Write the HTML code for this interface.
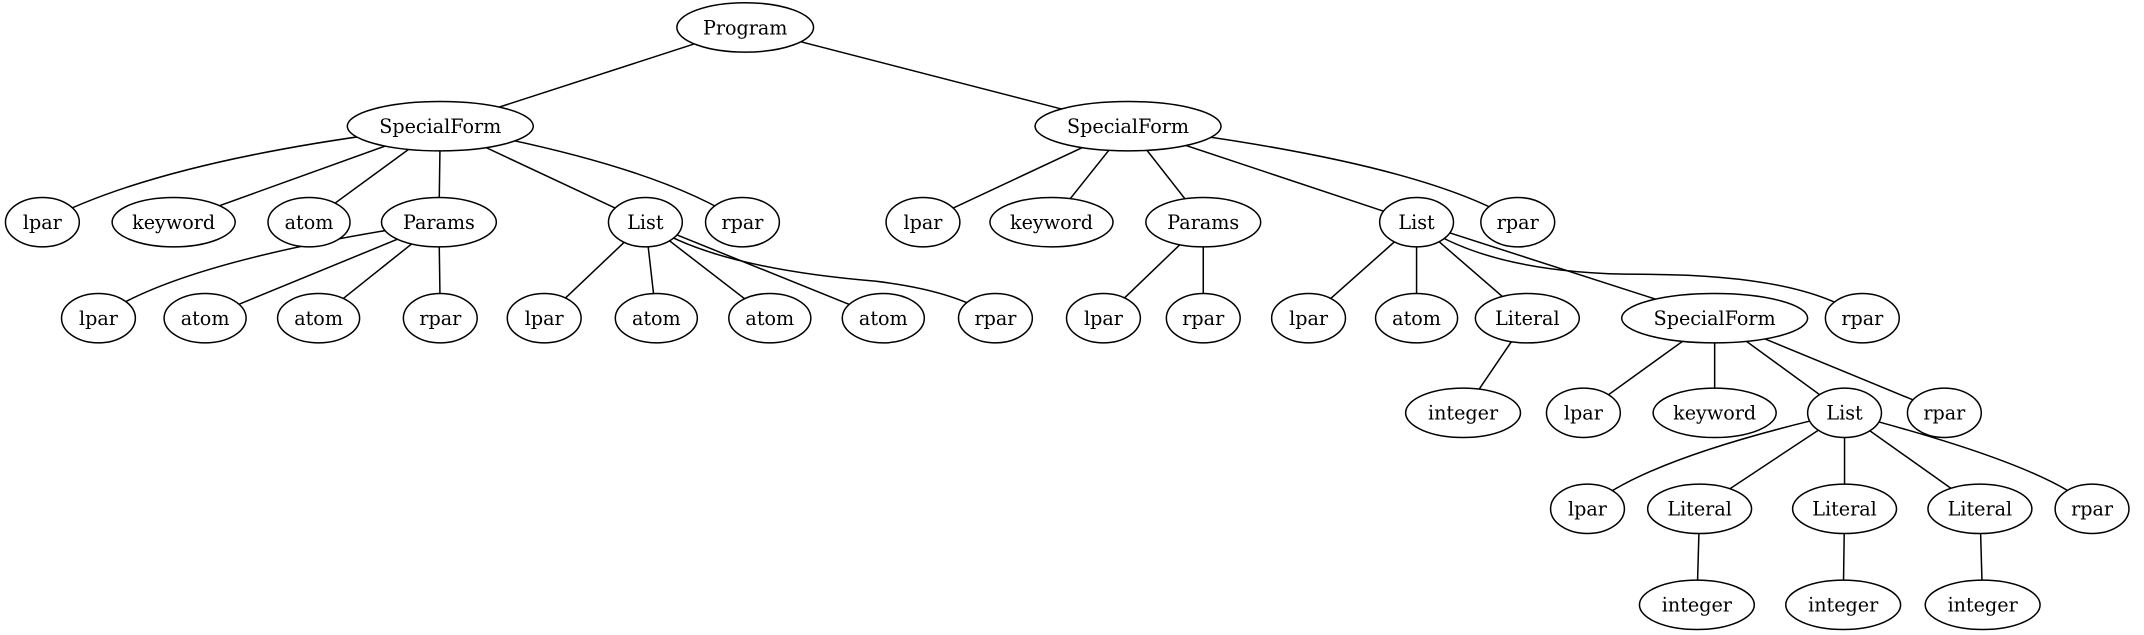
<!DOCTYPE html>
<html><head><meta charset="utf-8"><style>html,body{margin:0;padding:0;background:#fff;}svg{display:block}</style></head>
<body>
<svg width="2144" height="635" viewBox="0 0 1568 463" preserveAspectRatio="none" xmlns="http://www.w3.org/2000/svg">
<g stroke="#000" stroke-width="1.1" fill="none">
<line x1="545" y1="20" x2="322" y2="92"/><line x1="545" y1="20" x2="825" y2="92"/>
<path d="M322 92 Q120 115 31 162"/><line x1="322" y1="92" x2="127" y2="162"/><line x1="322" y1="92" x2="226" y2="162"/><line x1="322" y1="92" x2="321" y2="162"/><line x1="322" y1="92" x2="472" y2="162"/><path d="M322 92 Q480 120 543 162"/>
<line x1="825" y1="92" x2="675" y2="162"/><line x1="825" y1="92" x2="769" y2="162"/><line x1="825" y1="92" x2="880" y2="162"/><line x1="825" y1="92" x2="1036" y2="162"/><path d="M825 92 Q1040 118 1110 162"/>
<path d="M321 162 Q130 190 72 232"/><line x1="321" y1="162" x2="150" y2="232"/><line x1="321" y1="162" x2="233" y2="232"/><line x1="321" y1="162" x2="322" y2="232"/>
<line x1="472" y1="162" x2="398" y2="232"/><line x1="472" y1="162" x2="480" y2="232"/><line x1="472" y1="162" x2="563" y2="232"/><line x1="472" y1="162" x2="646" y2="232"/><path d="M472 162 Q520 195 640 205 Q700 212 728 232"/>
<line x1="880" y1="162" x2="807" y2="232"/><line x1="880" y1="162" x2="880" y2="232"/>
<line x1="1036" y1="162" x2="957" y2="232"/><line x1="1036" y1="162" x2="1036" y2="232"/><line x1="1036" y1="162" x2="1117" y2="232"/><line x1="1036" y1="162" x2="1254" y2="232"/><path d="M1036 162 Q1090 200 1200 200 Q1320 200 1362 232"/>
<line x1="1117" y1="232" x2="1070" y2="301"/>
<line x1="1254" y1="232" x2="1158" y2="301"/><line x1="1254" y1="232" x2="1254" y2="301"/><line x1="1254" y1="232" x2="1349" y2="301"/><line x1="1254" y1="232" x2="1422" y2="301"/>
<path d="M1349 301 Q1200 335 1161 371"/><line x1="1349" y1="301" x2="1243" y2="371"/><line x1="1349" y1="301" x2="1349" y2="371"/><line x1="1349" y1="301" x2="1448" y2="371"/><path d="M1349 301 Q1500 340 1530 371"/>
<line x1="1243" y1="371" x2="1241" y2="441"/><line x1="1349" y1="371" x2="1348" y2="441"/><line x1="1448" y1="371" x2="1450" y2="441"/>
</g>
<g stroke="#000" stroke-width="1.1" fill="#fff">
<ellipse cx="545" cy="20" rx="50" ry="18"/>
<ellipse cx="322" cy="92" rx="68" ry="18"/><ellipse cx="825" cy="92" rx="68" ry="18"/>
<ellipse cx="31" cy="162" rx="27" ry="18"/><ellipse cx="127" cy="162" rx="45" ry="18"/><ellipse cx="226" cy="162" rx="30" ry="18"/><ellipse cx="321" cy="162" rx="42" ry="18"/><ellipse cx="472" cy="162" rx="27" ry="18"/><ellipse cx="543" cy="162" rx="27" ry="18"/>
<ellipse cx="675" cy="162" rx="27" ry="18"/><ellipse cx="769" cy="162" rx="45" ry="18"/><ellipse cx="880" cy="162" rx="42" ry="18"/><ellipse cx="1036" cy="162" rx="27" ry="18"/><ellipse cx="1110" cy="162" rx="27" ry="18"/>
<ellipse cx="72" cy="232" rx="27" ry="18"/><ellipse cx="150" cy="232" rx="30" ry="18"/><ellipse cx="233" cy="232" rx="30" ry="18"/><ellipse cx="322" cy="232" rx="27" ry="18"/><ellipse cx="398" cy="232" rx="27" ry="18"/><ellipse cx="480" cy="232" rx="30" ry="18"/><ellipse cx="563" cy="232" rx="30" ry="18"/><ellipse cx="646" cy="232" rx="30" ry="18"/><ellipse cx="728" cy="232" rx="27" ry="18"/>
<ellipse cx="807" cy="232" rx="27" ry="18"/><ellipse cx="880" cy="232" rx="27" ry="18"/><ellipse cx="957" cy="232" rx="27" ry="18"/><ellipse cx="1036" cy="232" rx="30" ry="18"/><ellipse cx="1117" cy="232" rx="38" ry="18"/><ellipse cx="1254" cy="232" rx="68" ry="18"/><ellipse cx="1362" cy="232" rx="27" ry="18"/>
<ellipse cx="1070" cy="301" rx="42" ry="18"/><ellipse cx="1158" cy="301" rx="27" ry="18"/><ellipse cx="1254" cy="301" rx="45" ry="18"/><ellipse cx="1349" cy="301" rx="27" ry="18"/><ellipse cx="1422" cy="301" rx="27" ry="18"/>
<ellipse cx="1161" cy="371" rx="27" ry="18"/><ellipse cx="1243" cy="371" rx="38" ry="18"/><ellipse cx="1349" cy="371" rx="38" ry="18"/><ellipse cx="1448" cy="371" rx="38" ry="18"/><ellipse cx="1530" cy="371" rx="27" ry="18"/>
<ellipse cx="1241" cy="441" rx="42" ry="18"/><ellipse cx="1348" cy="441" rx="42" ry="18"/><ellipse cx="1450" cy="441" rx="42" ry="18"/>
</g>
<g font-family="'DejaVu Serif','Liberation Serif',serif" font-size="14" text-anchor="middle" fill="#000">
<text x="545" y="25">Program</text>
<text x="322" y="97">SpecialForm</text><text x="825" y="97">SpecialForm</text>
<text x="31" y="167">lpar</text><text x="127" y="167">keyword</text><text x="226" y="167">atom</text><text x="321" y="167">Params</text><text x="472" y="167">List</text><text x="543" y="167">rpar</text>
<text x="675" y="167">lpar</text><text x="769" y="167">keyword</text><text x="880" y="167">Params</text><text x="1036" y="167">List</text><text x="1110" y="167">rpar</text>
<text x="72" y="237">lpar</text><text x="150" y="237">atom</text><text x="233" y="237">atom</text><text x="322" y="237">rpar</text><text x="398" y="237">lpar</text><text x="480" y="237">atom</text><text x="563" y="237">atom</text><text x="646" y="237">atom</text><text x="728" y="237">rpar</text>
<text x="807" y="237">lpar</text><text x="880" y="237">rpar</text><text x="957" y="237">lpar</text><text x="1036" y="237">atom</text><text x="1117" y="237">Literal</text><text x="1254" y="237">SpecialForm</text><text x="1362" y="237">rpar</text>
<text x="1070" y="306">integer</text><text x="1158" y="306">lpar</text><text x="1254" y="306">keyword</text><text x="1349" y="306">List</text><text x="1422" y="306">rpar</text>
<text x="1161" y="376">lpar</text><text x="1243" y="376">Literal</text><text x="1349" y="376">Literal</text><text x="1448" y="376">Literal</text><text x="1530" y="376">rpar</text>
<text x="1241" y="446">integer</text><text x="1348" y="446">integer</text><text x="1450" y="446">integer</text>
</g>
</svg>
</body></html>
